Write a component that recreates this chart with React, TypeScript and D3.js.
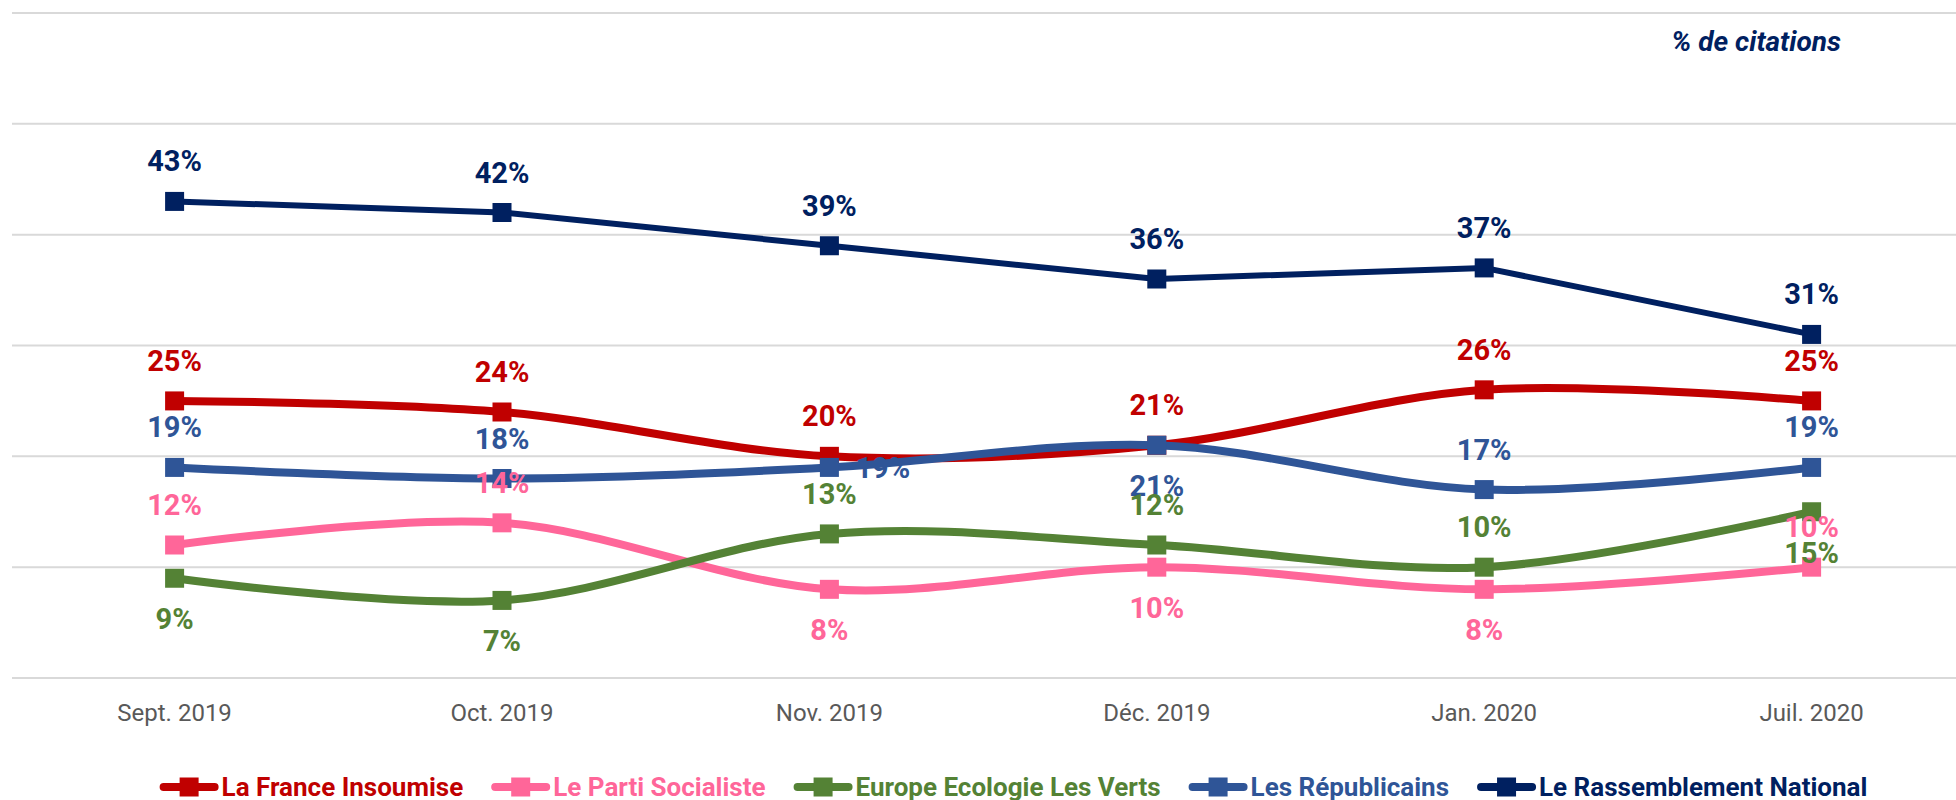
import React from "react";
import * as d3 from "d3";

const categories = ["Sept. 2019", "Oct. 2019", "Nov. 2019", "Déc. 2019", "Jan. 2020", "Juil. 2020"];
const lfiValues = [25, 24, 20, 21, 26, 25];
const psValues = [12, 14, 8, 10, 8, 10];
const eelvValues = [9, 7, 13, 12, 10, 15];
const lrValues = [19, 18, 19, 21, 17, 19];
const rnValues = [43, 42, 39, 36, 37, 31];
const yTicks = [0, 10, 20, 30, 40, 50, 60];

const lfiLabelPos = ["above", "above", "above", "above", "above", "above"];
const psLabelPos = ["above", "above", "below", "below", "below", "above"];
const eelvLabelPos = ["below", "below", "above", "above", "above", "below"];
const lrLabelPos = ["above", "above", "right", "below", "above", "above"];
const rnLabelPos = ["above", "above", "above", "above", "above", "above"];

const seriesNames = [
  "La France Insoumise",
  "Le Parti Socialiste",
  "Europe Ecologie Les Verts",
  "Les Républicains",
  "Le Rassemblement National",
];

type Series = {
  name: string;
  values: number[];
  color: string;
  pos: string[];
  smooth: boolean;
  width: number;
};

const series: Series[] = [
  { name: seriesNames[0], values: lfiValues, color: "#C00000", pos: lfiLabelPos, smooth: true, width: 8 },
  { name: seriesNames[1], values: psValues, color: "#FF6699", pos: psLabelPos, smooth: true, width: 8 },
  { name: seriesNames[2], values: eelvValues, color: "#548235", pos: eelvLabelPos, smooth: true, width: 8 },
  { name: seriesNames[3], values: lrValues, color: "#2F5597", pos: lrLabelPos, smooth: true, width: 8 },
  { name: seriesNames[4], values: rnValues, color: "#002060", pos: rnLabelPos, smooth: false, width: 6 },
];

const labelOrder = [0, 1, 3, 4, 2];

const W = 1956;
const H = 800;
const FONT = "Roboto, 'Noto Sans', sans-serif";

function measure(text: string, font: string): number {
  const c = document.createElement("canvas");
  const ctx = c.getContext("2d");
  if (!ctx) return text.length * 12;
  ctx.font = font;
  return ctx.measureText(text).width;
}

export default function App() {
  const x = d3.scalePoint<string>().domain(categories).range([174.6, 1811.6]);
  const y = d3.scaleLinear().domain([0, 60]).range([678, 13]);

  const mk = 19;

  const lineGen = (smooth: boolean) =>
    d3
      .line<number>()
      .x((_, i) => x(categories[i]) as number)
      .y((d) => y(d))
      .curve(smooth ? d3.curveCardinal.tension(0) : d3.curveLinear);

  // legend layout
  const legendFontSize = 26;
  const legendFont = `bold ${legendFontSize}px Roboto`;
  const lineLen = 59;
  const textGap = 3;
  const itemGap = 28;
  const widths = seriesNames.map((n) => measure(n, legendFont));
  const total =
    widths.reduce((a, b) => a + b, 0) + seriesNames.length * (lineLen + textGap) + (seriesNames.length - 1) * itemGap;
  let cursor = 1013.5 - total / 2;
  const legendItems = series.map((s, i) => {
    const item = { s, x0: cursor, tx: cursor + lineLen + textGap };
    cursor += lineLen + textGap + widths[i] + itemGap;
    return item;
  });
  const legendY = 787;

  return (
    <div style={{ position: "fixed", left: 0, top: 0, width: W, height: H, background: "#fff" }}>
      <svg width={W} height={H} style={{ display: "block" }} fontFamily={FONT}>
        <rect width={W} height={H} fill="#fff" />
        {yTicks.map((t) => (
          <line key={t} x1={12} x2={W} y1={y(t)} y2={y(t)} stroke="#D9D9D9" strokeWidth={2} />
        ))}
        {categories.map((c) => (
          <text key={c} x={x(c)} y={721} textAnchor="middle" fontSize={24} fill="#595959">
            {c}
          </text>
        ))}
        <text
          x={1841}
          y={51}
          textAnchor="end"
          fontSize={28}
          fontWeight="bold"
          fontStyle="italic"
          fill="#002060"
        >
          % de citations
        </text>
        {series.map((s) => (
          <g key={s.name}>
            <path
              d={lineGen(s.smooth)(s.values) || ""}
              fill="none"
              stroke={s.color}
              strokeWidth={s.width}
              strokeLinejoin="round"
              strokeLinecap="round"
            />
            {s.values.map((v, i) => (
              <rect
                key={i}
                x={(x(categories[i]) as number) - mk / 2}
                y={y(v) - mk / 2}
                width={mk}
                height={mk}
                fill={s.color}
              />
            ))}
          </g>
        ))}
        {labelOrder.map((si) => {
          const s = series[si];
          return (
            <g key={"l" + s.name}>
              {s.values.map((v, i) => {
                const cx = x(categories[i]) as number;
                const cy = y(v);
                const p = s.pos[i];
                let tx = cx;
                let ty = cy - 30;
                let anchor: "middle" | "start" = "middle";
                if (p === "below") ty = cy + 51;
                if (p === "right") {
                  tx = cx + 26;
                  ty = cy + 11;
                  anchor = "start";
                }
                return (
                  <text
                    key={i}
                    x={tx}
                    y={ty}
                    textAnchor={anchor}
                    fontSize={29}
                    fontWeight="bold"
                    fill={s.color}
                  >
                    {v}%
                  </text>
                );
              })}
            </g>
          );
        })}
        {legendItems.map(({ s, x0, tx }) => (
          <g key={"lg" + s.name}>
            <line
              x1={x0 + 4}
              x2={x0 + lineLen - 4}
              y1={legendY}
              y2={legendY}
              stroke={s.color}
              strokeWidth={8}
              strokeLinecap="round"
            />
            <rect x={x0 + lineLen / 2 - mk / 2} y={legendY - mk / 2} width={mk} height={mk} fill={s.color} />
            <text x={tx} y={796} fontSize={legendFontSize} fontWeight="bold" fill={s.color}>
              {s.name}
            </text>
          </g>
        ))}
      </svg>
    </div>
  );
}
